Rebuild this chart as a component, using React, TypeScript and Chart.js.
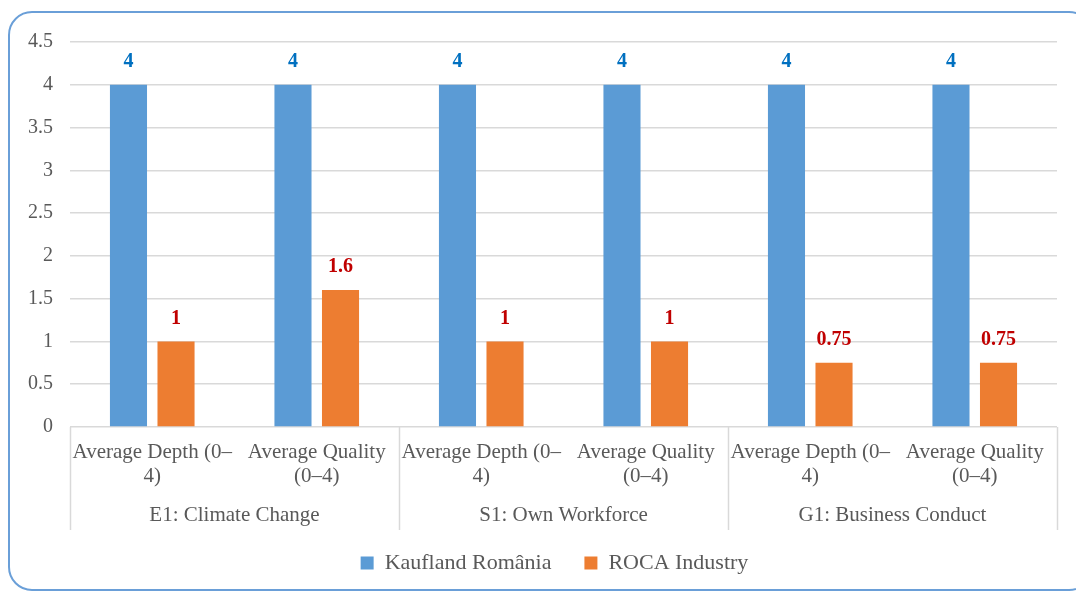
import React, { useEffect, useRef } from "react";
import { Chart, registerables } from "chart.js";

Chart.register(...registerables);

const categories: string[][] = [
  ["Average Depth (0–", "4)"],
  ["Average Quality", "(0–4)"],
  ["Average Depth (0–", "4)"],
  ["Average Quality", "(0–4)"],
  ["Average Depth (0–", "4)"],
  ["Average Quality", "(0–4)"],
];
const groups = ["E1: Climate Change", "S1: Own Workforce", "G1: Business Conduct"];
const groupSize = 2;
const seriesNames = ["Kaufland România", "ROCA Industry"];
const kauflandValues = [4, 4, 4, 4, 4, 4];
const rocaValues = [1, 1.6, 1, 1, 0.75, 0.75];
const yMin = 0;
const yMax = 4.5;
const yStep = 0.5;

const FONT = "'Liberation Serif', 'Times New Roman', serif";
const TEXT = "#595959";
const GRID = "#D9D9D9";
const BLUE = "#5B9BD5";
const ORANGE = "#ED7D31";
const LABEL_COLORS = ["#0070C0", "#C00000"];

const groupAxisPlugin = {
  id: "groupAxis",
  afterLayout(chart: any) {
    const l = chart.legend;
    if (l) {
      l.left += 22;
      l.right += 22;
    }
  },
  afterDraw(chart: any) {
    const { ctx, chartArea, scales } = chart;
    const x = scales.x;
    const top = chartArea.bottom;
    const bottom = top + 103;
    ctx.save();
    ctx.strokeStyle = GRID;
    ctx.lineWidth = 1.5;
    const n = categories.length;
    const bounds: number[] = [];
    for (let g = 0; g <= groups.length; g++) {
      const idx = g * groupSize;
      let px: number;
      if (idx === 0) px = chartArea.left;
      else if (idx >= n) px = chartArea.right;
      else px = (x.getPixelForValue(idx - 1) + x.getPixelForValue(idx)) / 2;
      bounds.push(px);
      ctx.beginPath();
      ctx.moveTo(Math.round(px) + 0.5, top);
      ctx.lineTo(Math.round(px) + 0.5, bottom);
      ctx.stroke();
    }
    ctx.fillStyle = TEXT;
    ctx.font = `21px ${FONT}`;
    ctx.textAlign = "center";
    ctx.textBaseline = "middle";
    groups.forEach((g, i) => {
      ctx.fillText(g, (bounds[i] + bounds[i + 1]) / 2, top + 88);
    });
    ctx.restore();
  },
};

const dataLabelPlugin = {
  id: "dataLabels",
  afterDatasetsDraw(chart: any) {
    const { ctx } = chart;
    ctx.save();
    ctx.font = `bold 20px ${FONT}`;
    ctx.textAlign = "center";
    ctx.textBaseline = "middle";
    chart.data.datasets.forEach((ds: any, di: number) => {
      const meta = chart.getDatasetMeta(di);
      ctx.fillStyle = LABEL_COLORS[di];
      meta.data.forEach((el: any, i: number) => {
        ctx.fillText(String(ds.data[i]), el.x, el.y - 23);
      });
    });
    ctx.restore();
  },
};

export default function App() {
  const ref = useRef<HTMLCanvasElement | null>(null);

  useEffect(() => {
    if (!ref.current) return;
    const chart = new Chart(ref.current, {
      type: "bar",
      data: {
        labels: categories,
        datasets: [
          {
            label: seriesNames[0],
            data: kauflandValues,
            backgroundColor: BLUE,
            categoryPercentage: 0.578,
            barPercentage: 0.78,
          },
          {
            label: seriesNames[1],
            data: rocaValues,
            backgroundColor: ORANGE,
            categoryPercentage: 0.578,
            barPercentage: 0.78,
          },
        ],
      },
      options: {
        animation: false,
        responsive: false,
        maintainAspectRatio: false,
        layout: { padding: { left: 8, right: 19, top: 42, bottom: 10 } },
        plugins: {
          tooltip: { enabled: false },
          legend: {
            position: "bottom",
            labels: {
              font: { family: FONT, size: 22 },
              color: TEXT,
              boxWidth: 13,
              boxHeight: 13,
              padding: 33,
            },
          },
        },
        scales: {
          x: {
            grid: { display: false, drawTicks: false },
            border: { display: false },
            ticks: {
              autoSkip: false,
              maxRotation: 0,
              minRotation: 0,
              padding: 13,
              color: TEXT,
              font: { family: FONT, size: 21, lineHeight: "24px" },
            },
            afterFit(scale: any) {
              scale.height = 92;
            },
          },
          y: {
            min: yMin,
            max: yMax,
            grid: { color: GRID, lineWidth: 1.5, drawTicks: false },
            border: { display: false },
            ticks: {
              stepSize: yStep,
              padding: 17,
              color: TEXT,
              font: { family: FONT, size: 20 },
              callback: (v: any) => String(v),
            },
            afterFit(scale: any) {
              scale.width = 62;
            },
          },
        },
      },
      plugins: [groupAxisPlugin, dataLabelPlugin],
    });
    return () => chart.destroy();
  }, []);

  return (
    <div
      style={{
        position: "fixed",
        left: 0,
        top: 0,
        width: 1076,
        height: 594,
        overflow: "hidden",
        background: "#fff",
      }}
    >
      <div
        style={{
          position: "absolute",
          left: 8,
          top: 11,
          width: 1085,
          height: 580,
          border: "2px solid #6A9FD8",
          borderRadius: 24,
          boxSizing: "border-box",
        }}
      />
      <canvas ref={ref} width={1076} height={594} style={{ position: "absolute", left: 0, top: 0 }} />
    </div>
  );
}
